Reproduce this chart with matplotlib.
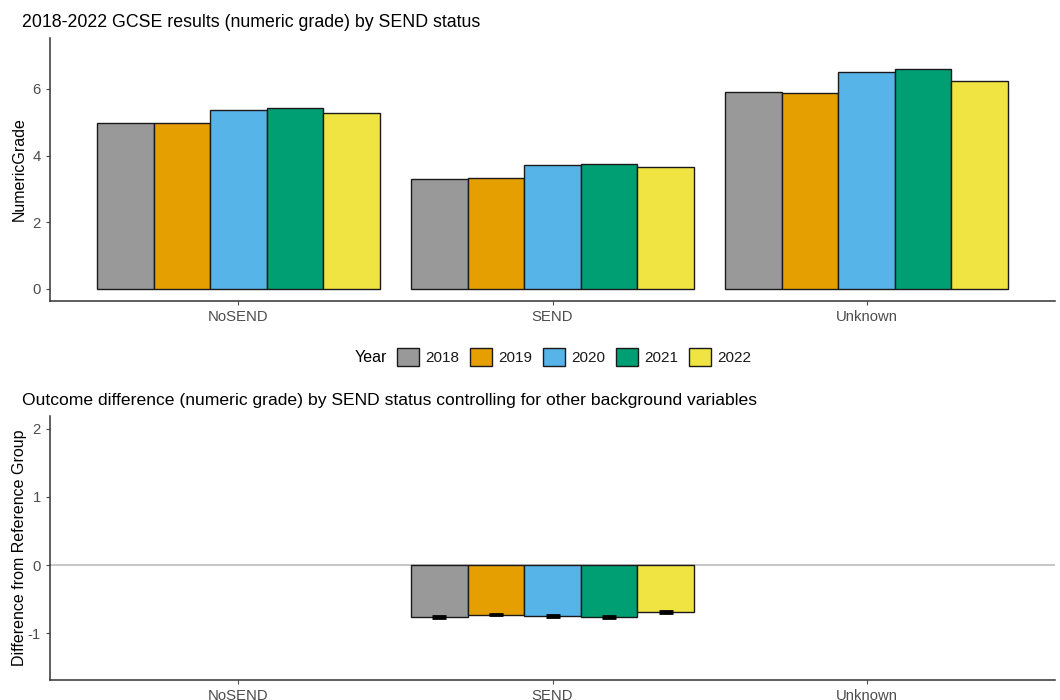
import matplotlib.pyplot as plt
import numpy as np

plt.rcParams['font.family'] = 'sans-serif'
plt.rcParams['font.sans-serif'] = ['Liberation Sans', 'DejaVu Sans']
plt.rcParams['axes.unicode_minus'] = False

groups = ['NoSEND', 'SEND', 'Unknown']
years = ['2018', '2019', '2020', '2021', '2022']
colors = ['#999999', '#E69F00', '#56B4E9', '#009E73', '#F0E442']

# mean numeric grade, rows = year, cols = group
grade = {
    '2018': [4.98, 3.30, 5.91],
    '2019': [4.98, 3.33, 5.88],
    '2020': [5.37, 3.72, 6.51],
    '2021': [5.43, 3.75, 6.60],
    '2022': [5.28, 3.66, 6.24],
}

# model difference from reference group (SEND only), with standard errors
diff_send = [-0.765, -0.73, -0.745, -0.765, -0.687]
diff_err = [0.012, 0.012, 0.012, 0.012, 0.012]

tick_col = '#4D4D4D'
axis_col = '#333333'
AXW = 1005


def style_ax(ax):
    for s in ['top', 'right']:
        ax.spines[s].set_visible(False)
    for s in ['left', 'bottom']:
        ax.spines[s].set_color(axis_col)
        ax.spines[s].set_linewidth(1.1)
    ax.tick_params(colors=tick_col, labelsize=10.7, length=3, width=0.8)
    ax.set_xticks(np.arange(1, len(groups) + 1))
    ax.set_xticklabels(groups)
    ax.set_xlim(0.4, 3.6)
    ax.yaxis.set_label_coords(-23 / AXW, 0.5)


fig = plt.figure(figsize=(10.6, 7.0), dpi=100)
ax1 = fig.add_axes([50 / 1060, 1 - 301 / 700, AXW / 1060, 263 / 700])
ax2 = fig.add_axes([50 / 1060, 1 - 680 / 700, AXW / 1060, 264 / 700])

w = 0.18
x = np.arange(1, len(groups) + 1)
handles = []
for i, yr in enumerate(years):
    off = (i - 2) * w
    b = ax1.bar(x + off, grade[yr], width=w, color=colors[i], edgecolor='#1a1a1a',
                linewidth=1.0, label=yr, zorder=2)
    handles.append(b)

ax1.set_ylim(-0.36, 7.53)
ax1.set_yticks([0, 2, 4, 6])
ax1.set_ylabel('NumericGrade', fontsize=11.5)
style_ax(ax1)
ax1.set_title('2018-2022 GCSE results (numeric grade) by SEND status', loc='left',
              fontsize=12.8, x=-28 / AXW, pad=8)

# bottom panel
ax2.axhline(0, color='#BEBEBE', lw=1.2, zorder=1)
for i, yr in enumerate(years):
    off = (i - 2) * w
    ax2.bar(2 + off, diff_send[i], width=w, color=colors[i], edgecolor='#1a1a1a',
            linewidth=1.0, zorder=2)
    ax2.errorbar(2 + off, diff_send[i], yerr=diff_err[i], fmt='none', ecolor='black',
                 elinewidth=1.5, capsize=5, capthick=2, zorder=3)
ax2.set_ylim(-1.69, 2.19)
ax2.set_yticks([-1, 0, 1, 2])
ax2.set_ylabel('Difference from Reference Group', fontsize=11.5)
style_ax(ax2)
ax2.set_title('Outcome difference (numeric grade) by SEND status controlling for other background variables',
              loc='left', fontsize=12.6, x=-28 / AXW, pad=8)

fig.text(355 / 1060, 1 - 357 / 700, 'Year', fontsize=11.5, va='center', ha='left')
fig.legend(handles=handles, labels=years, loc='center left',
           bbox_to_anchor=(386 / 1060, 1 - 357 / 700), ncol=5, frameon=False,
           fontsize=11, handlelength=1.45, handleheight=1.45, handletextpad=0.45,
           columnspacing=0.65, borderpad=0.2, labelcolor='#1a1a1a')

fig.savefig('out.png', dpi=100)
